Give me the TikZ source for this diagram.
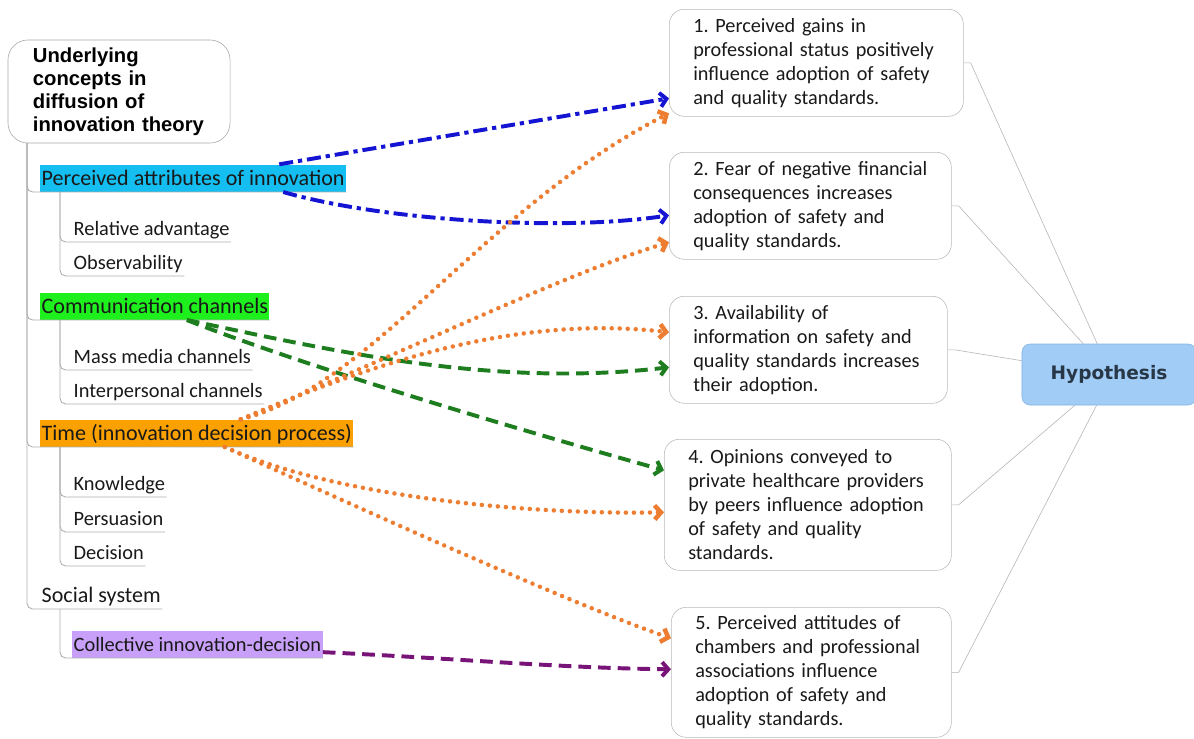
\documentclass[tikz,border=0pt]{standalone}
\usepackage{fontspec}
\setmainfont{Carlito}
\newfontfamily\headfont{Liberation Sans}
\newfontfamily\hypfont{DejaVu Sans}
\usetikzlibrary{arrows.meta}

\definecolor{attrfill}{RGB}{20,190,240}
\definecolor{commfill}{RGB}{30,240,30}
\definecolor{timefill}{RGB}{250,160,0}
\definecolor{collfill}{RGB}{200,160,250}
\definecolor{hypfill}{RGB}{160,204,245}
\definecolor{hypdraw}{RGB}{130,180,230}
\definecolor{hyptext}{RGB}{40,55,70}
\definecolor{bluearrow}{RGB}{20,20,210}
\definecolor{greenarrow}{RGB}{30,125,30}
\definecolor{orangearrow}{RGB}{237,125,49}
\definecolor{purplearrow}{RGB}{120,20,120}

\frenchspacing
\hyphenpenalty=10000

\begin{document}
\begin{tikzpicture}[x=0.025cm, y=-0.025cm,
    rootbox/.style={draw=gray!70, rounded corners=0.5cm, align=left, text width=4.3cm, inner xsep=0.625cm, minimum width=5.55cm, minimum height=2.575cm, font=\headfont\bfseries\fontsize{14.4}{16.3}\selectfont},
    concept/.style={anchor=south west, inner xsep=1pt, inner ysep=0pt, text height=14.9pt, text depth=4.4pt, text=black!90, font=\fontsize{15.7}{18}\selectfont},
    subconcept/.style={concept, font=\fontsize{14.5}{17}\selectfont},
    hbox/.style={draw=gray!55, rounded corners=0.375cm, anchor=north west, align=left, inner xsep=0.6cm, text=black!90, font=\fontsize{14.4}{17}\selectfont},
    hypbox/.style={fill=hypfill, draw=hypdraw, rounded corners=0.2cm, minimum width=4.35cm, minimum height=1.525cm, text=hyptext, font=\hypfont\bfseries\fontsize{13.2}{15}\selectfont},
    tree/.style={draw=gray!65, line width=0.6pt, rounded corners=4pt},
    link/.style={draw=gray!60, line width=0.4pt},
    blueline/.style={bluearrow, line width=2.8pt, dash pattern=on 10pt off 3.5pt on 3pt off 3.5pt, -{Straight Barb[length=4.5pt,width=10pt]}},
    greenline/.style={greenarrow, line width=2.8pt, dash pattern=on 9pt off 5pt, -{Straight Barb[length=4.5pt,width=10pt]}},
    orangeline/.style={orangearrow, line width=3.2pt, line cap=round, dash pattern=on 0pt off 5.7pt, -{Straight Barb[length=4.5pt,width=10pt]}},
    purpleline/.style={purplearrow, line width=2.8pt, dash pattern=on 9pt off 5pt, -{Straight Barb[length=4.5pt,width=10pt]}}]
    \useasboundingbox (0,0) rectangle (1194,738);

    % Draw concept nodes
    \node[rootbox] (root) at (119,91.5) {Underlying\\concepts in\\diffusion of\\innovation theory};
    \node[concept, fill=attrfill] (attr) at (40,192) {Perceived attributes of innovation};
    \node[subconcept] (reladv) at (72,242) {Relative advantage};
    \node[subconcept] (observ) at (72,276) {Observability};
    \node[concept, fill=commfill] (comm) at (40,320) {Communication channels};
    \node[subconcept] (massmedia) at (72,370) {Mass media channels};
    \node[subconcept] (interpers) at (72,404) {Interpersonal channels};
    \node[concept, fill=timefill] (time) at (40,447) {Time (innovation decision process)};
    \node[subconcept] (knowledge) at (72,497) {Knowledge};
    \node[subconcept] (persuasion) at (72,532) {Persuasion};
    \node[subconcept] (decision) at (72,566) {Decision};
    \node[concept] (social) at (40,609) {Social system};
    \node[subconcept, fill=collfill] (coll) at (72,658) {Collective innovation-decision};

    % Draw hypothesis nodes
    \node[hbox, text width=6.15cm, minimum height=2.675cm] (h1) at (669,9) {1. Perceived gains in\\professional status positively\\influence adoption of safety\\and quality standards.};
    \node[hbox, text width=5.85cm, minimum height=2.675cm] (h2) at (669,152) {2. Fear of negative financial\\consequences increases\\adoption of safety and\\quality standards.};
    \node[hbox, text width=5.75cm, minimum height=2.675cm] (h3) at (669,296) {3. Availability of\\information on safety and\\quality standards increases\\their adoption.};
    \node[hbox, text width=5.975cm, minimum height=3.275cm] (h4) at (664,439) {4. Opinions conveyed to\\private healthcare providers\\by peers influence adoption\\of safety and quality\\standards.};
    \node[hbox, text width=5.8cm, minimum height=3.25cm] (h5) at (671,607) {5. Perceived attitudes of\\chambers and professional\\associations influence\\adoption of safety and\\quality standards.};
    \node[hypbox] (hyp) at (1109,374.5) {Hypothesis};

    % Draw tree lines
    \coordinate (trunk) at (27,143);
    \coordinate (stem) at (60,0);
    \foreach \n in {attr, comm, time, social}
        \draw[tree] (trunk) |- (\n.south east);
    \foreach \p/\n in {attr/reladv, attr/observ, comm/massmedia, comm/interpers, time/knowledge, time/persuasion, time/decision, social/coll}
        \draw[tree] (\p.south -| stem) |- (\n.south east);

    % Draw links to hypothesis
    \draw[link] (h1.east) -- ++(7,0) -- (hyp.111);
    \draw[link] (h2.east) -- ++(7,0) -- (hyp.130);
    \draw[link] (h3.east) -- ++(7,0) -- (hyp.171);
    \draw[link] (h4.east) -- ++(7,0) -- (hyp.222);
    \draw[link] (h5.east) -- ++(7,0) -- (hyp.248);

    % Draw directed edges
    \draw[blueline] ([xshift=-1.675cm]attr.north east) -- ([yshift=-0.8875cm]h1.west);
    \draw[blueline] ([xshift=-1.575cm]attr.south east) .. controls (380,220) and (560,232) .. ([yshift=-0.2375cm]h2.west);
    \draw[greenline] ([xshift=0.8cm]comm.south) .. controls (330,350) and (490,388) .. ([yshift=-0.4375cm]h3.west);
    \draw[greenline] ([xshift=0.8cm]comm.south) .. controls (300,365) and (520,430) .. ([yshift=0.8625cm]h4.west);
    \draw[orangeline] ([xshift=1.1cm]time.north) .. controls (375,385) and (480,210) .. ([yshift=-1.2625cm]h1.west);
    \draw[orangeline] ([xshift=1.1cm]time.north) .. controls (400,355) and (560,275) .. ([yshift=-0.9125cm]h2.west);
    \draw[orangeline] ([xshift=1.1cm]time.north) .. controls (380,360) and (520,315) .. ([yshift=0.4375cm]h3.west);
    \draw[orangeline] ([xshift=0.7cm]time.south) .. controls (330,495) and (520,515) .. ([yshift=-0.1875cm]h4.west); % to opinions
    \draw[orangeline] ([xshift=0.7cm]time.south) .. controls (320,490) and (560,600) .. ([yshift=0.85cm]h5.west); % to attitudes
    \draw[purpleline] ([yshift=-0.2cm]coll.east) .. controls (450,658) and (560,668) .. ([yshift=0.075cm]h5.west);
\end{tikzpicture}
\end{document}
